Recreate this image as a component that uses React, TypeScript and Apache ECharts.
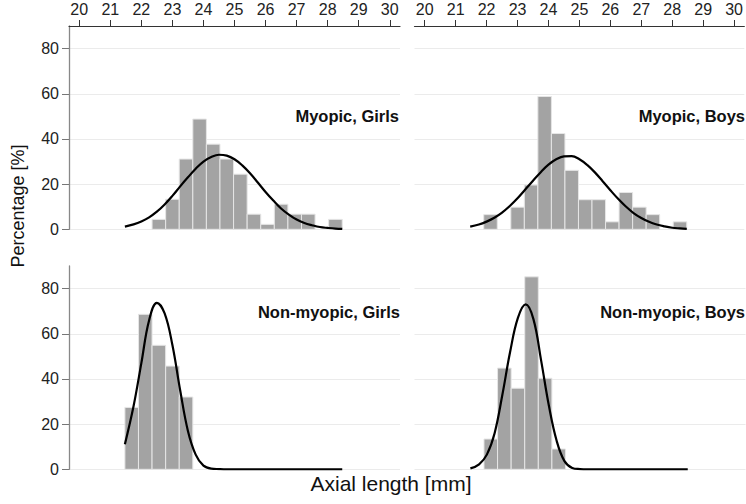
import React, { useEffect, useRef } from "react";
import * as echarts from "echarts";

// Histogram bins (density in percent), shared bin grid
const binStart = 21.47;
const binWidth = 0.4375;
const myopicGirls = [0, 0, 4.4, 13.3, 31.1, 48.8, 37.7, 31.1, 24.4, 6.7, 2.2, 11.1, 6.7, 6.7, 0, 4.4];
const myopicBoys = [0, 6.5, 0, 9.8, 19.6, 58.8, 42.4, 26.1, 13.1, 13.1, 3.3, 16.3, 9.8, 6.5, 0, 3.3];
const nonMyopicGirls = [27.4, 68.6, 54.9, 45.7, 32.0, 0, 0, 0, 0, 0, 0, 0, 0, 0, 0, 0];
const nonMyopicBoys = [0, 13.4, 44.8, 35.9, 85.2, 40.3, 9.0, 0, 0, 0, 0, 0, 0, 0, 0, 0];

// Normal curves
const curveX = [21.47, 21.75, 22.0, 22.25, 22.5, 22.75, 23.0, 23.25, 23.5, 23.75, 24.0, 24.25, 24.5, 24.75, 25.0, 25.25, 25.5, 25.75, 26.0, 26.25, 26.5, 26.75, 27.0, 27.25, 27.5, 27.75, 28.0, 28.25, 28.47];
const curveMyopicGirls = [1.2, 2.2, 3.5, 5.3, 7.8, 11.0, 14.8, 19.0, 23.0, 26.8, 30.0, 32.0, 33.0, 32.6, 31.0, 28.3, 24.8, 20.7, 16.5, 12.7, 9.2, 6.5, 4.3, 2.8, 1.8, 1.0, 0.6, 0.3, 0.2];
const curveMyopicBoys = [1.2, 2.1, 3.4, 5.1, 7.4, 10.3, 13.7, 17.6, 21.5, 25.3, 28.6, 31.0, 32.3, 32.4, 31.0, 28.5, 25.2, 21.3, 17.3, 13.5, 10.1, 7.2, 5.0, 3.3, 2.1, 1.3, 0.7, 0.4, 0.2];
const curveNonMyopicGirls = [11.1, 28.0, 47.0, 66.0, 73.7, 69.0, 55.0, 35.0, 17.0, 6.5, 1.6, 0.3, 0.1, 0, 0, 0, 0, 0, 0, 0, 0, 0, 0, 0, 0, 0, 0, 0, 0];
const curveNonMyopicBoys = [0.4, 2.2, 6.5, 16.0, 33.0, 52.0, 67.0, 73.0, 66.5, 48.0, 28.0, 12.5, 3.6, 0.6, 0.1, 0, 0, 0, 0, 0, 0, 0, 0, 0, 0, 0, 0, 0, 0];

const panelLabels = ["Myopic, Girls", "Myopic, Boys", "Non-myopic, Girls", "Non-myopic, Boys"];
const xTicks = [20, 21, 22, 23, 24, 25, 26, 27, 28, 29, 30];
const yTicks = [0, 20, 40, 60, 80];
const xMin = 19.67;
const xMax = 30.33;
const yMax = 90;
const xTitle = "Axial length [mm]";
const yTitle = "Percentage [%]";

const FONT = '"Liberation Sans", Arial, Helvetica, sans-serif';

export default function App() {
  const ref = useRef<HTMLDivElement>(null);

  useEffect(() => {
    if (!ref.current) return;
    const chart = echarts.init(ref.current, undefined, { renderer: "svg" });

    const bins = [myopicGirls, myopicBoys, nonMyopicGirls, nonMyopicBoys];
    const curves = [curveMyopicGirls, curveMyopicBoys, curveNonMyopicGirls, curveNonMyopicBoys];

    const gridPos = [
      { left: 69, top: 26 },
      { left: 414.5, top: 26 },
      { left: 69, top: 266 },
      { left: 414.5, top: 266 },
    ];
    const gw = 331;
    const gh = 203.3;

    const grid = gridPos.map((g) => ({ left: g.left, top: g.top, width: gw, height: gh, containLabel: false }));

    const xAxis = gridPos.map((_, i) => {
      const top = i < 2;
      return {
        type: "value",
        gridIndex: i,
        min: xMin,
        max: xMax,
        position: "top",
        axisLine: { show: top, onZero: false, lineStyle: { color: "#333", width: 1.2 } },
        axisTick: { show: top, length: 6, inside: false, customValues: xTicks, lineStyle: { color: "#333", width: 1 } },
        axisLabel: { show: top, customValues: xTicks, margin: 9, fontSize: 16, color: "#222", fontFamily: FONT },
        splitLine: { show: false },
      };
    });

    const yAxis = gridPos.map((_, i) => {
      const left = i % 2 === 0;
      return {
        type: "value",
        gridIndex: i,
        min: 0,
        max: yMax,
        axisLine: { show: left, lineStyle: { color: "#888", width: 1.3 } },
        axisTick: { show: left, length: 7, customValues: yTicks, lineStyle: { color: "#777", width: 1 } },
        axisLabel: { show: left, customValues: yTicks, margin: 10, fontSize: 16, color: "#222", fontFamily: FONT },
        splitLine: { show: true, lineStyle: { color: "#ebebeb", width: 1 } },
      };
    });

    const series: any[] = [];
    bins.forEach((b, i) => {
      const data = b
        .map((v, k) => [binStart + k * binWidth, binStart + (k + 1) * binWidth, v])
        .filter((d) => d[2] > 0);
      series.push({
        type: "custom",
        xAxisIndex: i,
        yAxisIndex: i,
        data,
        encode: { x: [0, 1], y: 2 },
        renderItem: (params: any, api: any) => {
          const p0 = api.coord([api.value(0), api.value(2)]);
          const p1 = api.coord([api.value(1), 0]);
          return {
            type: "rect",
            shape: { x: p0[0], y: p0[1], width: p1[0] - p0[0], height: p1[1] - p0[1] },
            style: { fill: "#a3a3a3", stroke: "#e6e6e6", lineWidth: 1 },
          };
        },
        z: 2,
      });
    });
    curves.forEach((c, i) => {
      series.push({
        type: "line",
        xAxisIndex: i,
        yAxisIndex: i,
        data: curveX.map((x, k) => [x, c[k]]),
        smooth: 0.4,
        symbol: "none",
        lineStyle: { color: "#000", width: 2.2 },
        z: 5,
      });
    });

    const labelPos = [
      { x: 399, y: 116 },
      { x: 745, y: 116 },
      { x: 400, y: 311.5 },
      { x: 745, y: 311.5 },
    ];

    const graphic: any[] = panelLabels.map((t, i) => ({
      type: "text",
      x: labelPos[i].x,
      y: labelPos[i].y,
      style: {
        text: t,
        align: "right",
        verticalAlign: "middle",
        font: `bold 16.5px ${FONT}`,
        fill: "#111",
      },
      z: 10,
    }));
    graphic.push({
      type: "text",
      x: 391,
      y: 483,
      style: { text: xTitle, align: "center", verticalAlign: "middle", font: `21px ${FONT}`, fill: "#111" },
    });
    graphic.push({
      type: "text",
      x: 18,
      y: 206,
      rotation: Math.PI / 2,
      style: { text: yTitle, align: "center", verticalAlign: "middle", font: `18px ${FONT}`, fill: "#111" },
    });

    chart.setOption({
      animation: false,
      backgroundColor: "#fff",
      grid,
      xAxis,
      yAxis,
      series,
      graphic,
    });

    return () => chart.dispose();
  }, []);

  return (
    <div
      ref={ref}
      style={{ position: "fixed", left: 0, top: 0, width: 746, height: 504, background: "#fff" }}
    />
  );
}
